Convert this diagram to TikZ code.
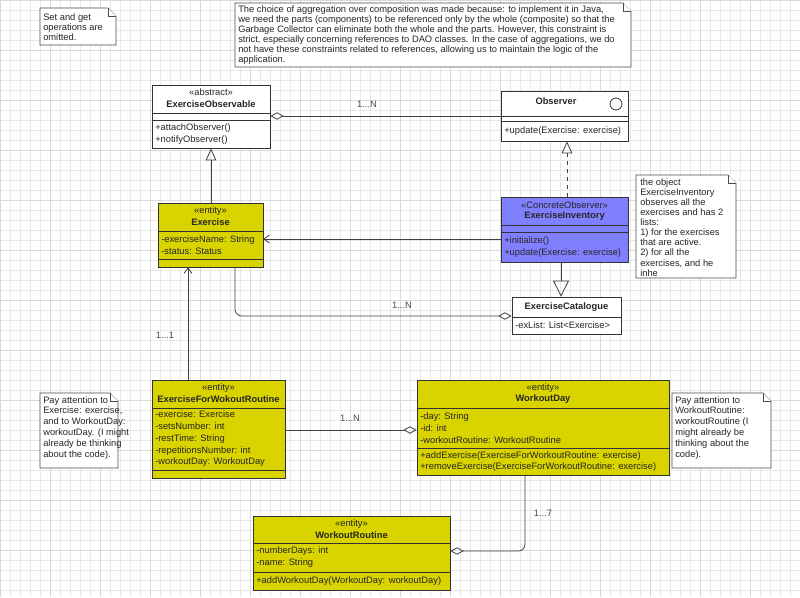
\documentclass[tikz,border=0pt]{standalone}
\usepackage{fontspec}
\setmainfont{Liberation Sans}
\usetikzlibrary{arrows.meta}
\definecolor{ent}{RGB}{217,211,0}
\definecolor{obsc}{RGB}{128,128,255}
\definecolor{gridc}{RGB}{232,232,232}
\tikzset{
  umlline/.style={draw=black!75, line width=0.6pt},
  cls/.style={draw=black!80, line width=0.6pt, inner sep=0pt},
  txt/.style={font=\fontsize{7}{8.8}\selectfont, inner sep=0pt, text=black!85},
  ttl/.style={txt, font=\fontsize{7}{8.8}\selectfont\bfseries},
  lft/.style={txt, anchor=west, align=left},
  ntxt/.style={lft, anchor=north west, font=\fontsize{7}{7.6}\selectfont},
  note/.style={draw=black!70, fill=white, line width=0.5pt},
  agg/.style={umlline, {Diamond[open,length=10pt,width=5.5pt]}-},
  gen/.style={umlline, -{Triangle[open,length=9pt,width=8pt]}},
  assoc/.style={umlline, -{Straight Barb[length=4pt,width=6pt]}},
  mult/.style={font=\fontsize{7}{8}\selectfont, inner sep=0pt, text=black!70}
}
\newcommand{\umlbox}[6]{\node[cls, fill=#6, minimum width={(#4-#2)*0.75pt}, minimum height={(#5-#3)*0.75pt}] (#1) at ({(#2+#4)/2},{(#3+#5)/2}) {};}
\newcommand{\hsep}[3]{\draw[black!80, line width=0.6pt] (#1,#3) -- (#2,#3);}
\newcommand{\notebox}[5]{\draw[note] (#2,#3) -- ({#4-8},#3) -- (#4,{#3+8}) -- (#4,#5) -- (#2,#5) -- cycle; \draw[note] ({#4-8},#3) -- ({#4-8},{#3+8}) -- (#4,{#3+8}); \coordinate (#1) at (#2,#3);}
\begin{document}
\begin{tikzpicture}[x=0.75pt,y=-0.75pt]
\fill[white] (0,0) rectangle (800,597);
\useasboundingbox (0,0) rectangle (800,597);
\foreach \i in {0,10,...,800} \draw[gridc, line width=0.3pt] (\i,0) -- (\i,597);
\foreach \i in {0,10,...,590} \draw[gridc, line width=0.3pt] (0,\i) -- (800,\i);
\foreach \i in {0,50,...,800} \draw[black!15, line width=0.4pt] (\i,0) -- (\i,597);
\foreach \i in {0,50,...,550} \draw[black!15, line width=0.4pt] (0,\i) -- (800,\i);

% notes
\notebox{n1}{40}{8}{116}{45}
\node[ntxt] (n1t) at (43,13) {Set and get\\operations are\\omitted.};
\notebox{n2}{235}{3}{631}{67}
\node[ntxt] (n2t) at (238,5) {The choice of aggregation over composition was made because: to implement it in Java,\\we need the parts (components) to be referenced only by the whole (composite) so that the\\Garbage Collector can eliminate both the whole and the parts. However, this constraint is\\strict, especially concerning references to DAO classes. In the case of aggregations, we do\\not have these constraints related to references, allowing us to maintain the logic of the\\application.};
\notebox{n3}{636}{175}{736}{278}
\node[ntxt] (n3t) at (640,178) {the object\\ExerciseInventory\\observes all the\\exercises and has 2\\lists:\\1) for the exercises\\that are active.\\2) for all the\\exercises, and he\\inhe};
\notebox{n4}{40}{393}{118}{468}
\node[ntxt, font=\fontsize{7}{8.2}\selectfont] (n4t) at (43,396) {Pay attention to\\Exercise: exercise,\\and to WorkoutDay:\\workoutDay. (I might\\already be thinking\\about the code).};
\notebox{n5}{672}{393}{771}{468}
\node[ntxt, font=\fontsize{7}{8.2}\selectfont] (n5t) at (675,396) {Pay attention to\\WorkoutRoutine:\\workoutRoutine (I\\might already be\\thinking about the\\code).};

% ExerciseObservable
\umlbox{eo}{152}{85}{270}{148}{white}
\hsep{152}{270}{113}\hsep{152}{270}{120}
\node[txt] (eos) at (211,92) {«abstract»};
\node[ttl] (eon) at (211,104) {ExerciseObservable};
\node[lft] (eom) at (155,134) {+attachObserver()\\+notifyObserver()};

% Observer
\umlbox{ob}{501}{91}{628}{141}{white}
\hsep{501}{628}{116}\hsep{501}{628}{121}
\node[ttl] (obn) at (556,101) {Observer};
\draw[black!80, line width=0.6pt] (616,104) circle[radius=6];
\node[lft] (obm) at (504,131) {+update(Exercise: exercise)};

% Exercise
\umlbox{ex}{158}{203}{263}{267}{ent}
\hsep{158}{263}{231}\hsep{158}{263}{259}
\node[txt] (exs) at (210.5,211) {«entity»};
\node[ttl] (exn) at (210.5,222) {Exercise};
\node[lft] (exa) at (161,245) {-exerciseName: String\\-status: Status};

% ExerciseInventory
\umlbox{ei}{501}{197}{628}{262}{obsc}
\hsep{501}{628}{225}\hsep{501}{628}{232}
\node[txt] (eis) at (564.5,205) {«ConcreteObserver»};
\node[ttl] (ein) at (564.5,216) {ExerciseInventory};
\node[lft] (eim) at (504,247) {+initialize()\\+update(Exercise: exercise)};

% ExerciseCatalogue
\umlbox{ec}{512}{297}{621}{334}{white}
\hsep{512}{621}{317}
\node[ttl] (ecn) at (566.5,307) {ExerciseCatalogue};
\node[lft] (eca) at (515,325) {-exList: List<Exercise>};

% ExerciseForWokoutRoutine
\umlbox{ef}{152}{380}{285}{478}{ent}
\hsep{152}{285}{408}\hsep{152}{285}{470}
\node[txt] (efs) at (218.5,388) {«entity»};
\node[ttl] (efn) at (218.5,399) {ExerciseForWokoutRoutine};
\node[lft] (efa) at (155,439) {-exercise: Exercise\\-setsNumber: int\\-restTime: String\\-repetitionsNumber: int\\-workoutDay: WorkoutDay};

% WorkoutDay
\umlbox{wd}{417}{380}{669}{475}{ent}
\hsep{417}{669}{408}\hsep{417}{669}{448}
\node[txt] (wds) at (543,388) {«entity»};
\node[ttl] (wdn) at (543,399) {WorkoutDay};
\node[lft] (wda) at (420,428) {-day: String\\-id: int\\-workoutRoutine: WorkoutRoutine};
\node[lft] (wdm) at (420,461.5) {+addExercise(ExerciseForWorkoutRoutine: exercise)\\+removeExercise(ExerciseForWorkoutRoutine: exercise)};

% WorkoutRoutine
\umlbox{wr}{253}{516}{450}{590}{ent}
\hsep{253}{450}{543}\hsep{253}{450}{572}
\node[txt] (wrs) at (351.5,524) {«entity»};
\node[ttl] (wrn) at (351.5,535) {WorkoutRoutine};
\node[lft] (wra) at (256,557) {-numberDays: int\\-name: String};
\node[lft] (wrm) at (256,581) {+addWorkoutDay(WorkoutDay: workoutDay)};

% connectors
\coordinate (y116) at (0,116);
\coordinate (y239) at (0,239);
\coordinate (y316) at (0,316);
\coordinate (y430) at (0,430);
\coordinate (y551) at (0,551);
\coordinate (x211) at (211,0);
\coordinate (x567) at (567,0);
\coordinate (x561) at (561,0);
\coordinate (x235) at (235,0);
\coordinate (x188) at (188,0);
\coordinate (x525) at (525,0);
\draw[agg] (eo.east |- y116) -- (ob.west |- y116);
\node[mult] (m1) at (367,104) {1...N};
\draw[gen] (ex.north -| x211) -- (eo.south -| x211);
\draw[gen, dashed] (ei.north -| x567) -- (ob.south -| x567);
\draw[assoc] (ei.west |- y239) -- (ex.east |- y239);
\draw[umlline, -{Triangle[open,length=12pt,width=12pt]}] (ei.south -| x561) -- (ec.north -| x561);
\draw[agg, rounded corners=5pt] (ec.west |- y316) -- (x235 |- y316) -- (ex.south -| x235);
\node[mult] (m2) at (402,305) {1...N};
\draw[assoc] (ef.north -| x188) -- (ex.south -| x188);
\node[mult] (m3) at (165,335) {1...1};
\draw[agg] (wd.west |- y430) -- (ef.east |- y430);
\node[mult] (m4) at (350,418) {1...N};
\draw[agg, rounded corners=5pt] (wr.east |- y551) -- (x525 |- y551) -- (wd.south -| x525);
\node[mult] (m5) at (543,513) {1...7};
\end{tikzpicture}
\end{document}
